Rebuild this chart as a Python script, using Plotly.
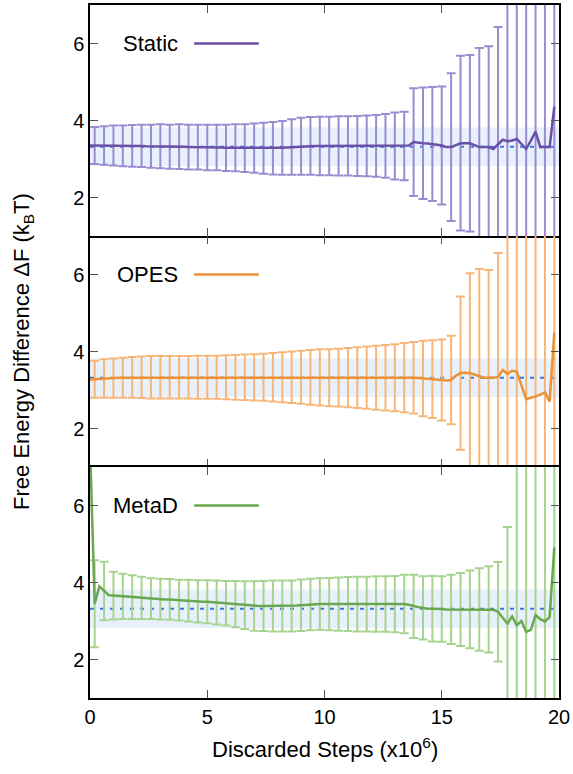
import numpy as np
import plotly.graph_objects as go
from plotly.subplots import make_subplots

# ---------------- data ----------------
# discarded steps (x10^6), line sampled every 0.2, error bars every other point
STEPS = np.round(np.arange(100) * 0.2, 1)

REF_VALUE = 3.32     # reference free-energy difference (kBT)
REF_ERR = 0.50       # reference uncertainty band

STATIC_Y = [3.35, 3.35, 3.35, 3.35, 3.35, 3.35, 3.35, 3.34, 3.34, 3.34,
            3.34, 3.34, 3.33, 3.33, 3.33, 3.33, 3.33, 3.32, 3.32, 3.32,
            3.32, 3.31, 3.31, 3.31, 3.31, 3.30, 3.30, 3.30, 3.30, 3.29,
            3.29, 3.29, 3.28, 3.28, 3.28, 3.28, 3.28, 3.28, 3.28, 3.28,
            3.29, 3.29, 3.30, 3.31, 3.32, 3.33, 3.33, 3.34, 3.34, 3.34,
            3.34, 3.34, 3.34, 3.34, 3.34, 3.34, 3.34, 3.34, 3.34, 3.34,
            3.34, 3.34, 3.34, 3.34, 3.34, 3.34, 3.34, 3.34, 3.35, 3.44,
            3.42, 3.41, 3.40, 3.39, 3.37, 3.35, 3.31, 3.31, 3.36, 3.41,
            3.41, 3.41, 3.36, 3.31, 3.31, 3.31, 3.26, 3.38, 3.50, 3.46,
            3.48, 3.52, 3.39, 3.26, 3.48, 3.71, 3.31, 3.32, 3.31, 4.36]
STATIC_ERR = [0.48, 0.50, 0.52, 0.53, 0.54, 0.55, 0.56, 0.57, 0.57, 0.58,
              0.58, 0.58, 0.59, 0.59, 0.60, 0.61, 0.62, 0.64, 0.66, 0.68,
              0.70, 0.72, 0.74, 0.75, 0.76, 0.76, 0.77, 0.77, 0.78, 0.79,
              0.80, 0.83, 0.87, 0.89, 1.40, 1.45, 1.48, 1.53, 1.92, 2.27,
              2.29, 2.57, 2.62, 3.05, 4.50, 5.00, 5.50, 6.00, 6.50, 7.00]

OPES_Y = [3.27, 3.28, 3.29, 3.30, 3.31, 3.31, 3.32, 3.32, 3.32, 3.33,
          3.33, 3.33, 3.33, 3.33, 3.33, 3.33, 3.33, 3.33, 3.33, 3.33,
          3.33, 3.33, 3.33, 3.33, 3.33, 3.33, 3.33, 3.33, 3.33, 3.33,
          3.33, 3.33, 3.33, 3.33, 3.33, 3.33, 3.33, 3.33, 3.33, 3.33,
          3.33, 3.33, 3.33, 3.33, 3.33, 3.33, 3.33, 3.33, 3.33, 3.33,
          3.32, 3.32, 3.32, 3.32, 3.32, 3.32, 3.32, 3.32, 3.32, 3.32,
          3.32, 3.32, 3.32, 3.32, 3.32, 3.32, 3.32, 3.32, 3.32, 3.32,
          3.31, 3.30, 3.29, 3.28, 3.27, 3.26, 3.25, 3.26, 3.37, 3.44,
          3.45, 3.44, 3.40, 3.34, 3.32, 3.32, 3.32, 3.34, 3.52, 3.42,
          3.50, 3.48, 3.12, 2.76, 2.80, 2.83, 2.88, 2.94, 2.70, 4.49]
OPES_ERR = [0.48, 0.50, 0.51, 0.52, 0.53, 0.54, 0.55, 0.55, 0.55, 0.55,
            0.55, 0.56, 0.56, 0.56, 0.57, 0.58, 0.59, 0.60, 0.61, 0.63,
            0.65, 0.67, 0.69, 0.71, 0.73, 0.74, 0.75, 0.77, 0.79, 0.81,
            0.83, 0.85, 0.87, 0.90, 0.93, 0.98, 1.01, 1.05, 1.15, 1.99,
            2.59, 2.80, 2.80, 3.22, 4.00, 4.50, 5.00, 5.50, 6.00, 6.50]

METAD_Y = [7.60, 3.45, 3.90, 3.78, 3.67, 3.66, 3.65, 3.64, 3.63, 3.62,
           3.61, 3.60, 3.59, 3.58, 3.57, 3.57, 3.56, 3.56, 3.55, 3.54,
           3.53, 3.53, 3.52, 3.51, 3.50, 3.50, 3.49, 3.48, 3.47, 3.46,
           3.45, 3.44, 3.43, 3.41, 3.40, 3.39, 3.39, 3.39, 3.39, 3.39,
           3.39, 3.39, 3.39, 3.39, 3.40, 3.41, 3.42, 3.43, 3.44, 3.44,
           3.44, 3.44, 3.44, 3.44, 3.44, 3.44, 3.44, 3.44, 3.44, 3.44,
           3.44, 3.44, 3.44, 3.44, 3.44, 3.44, 3.44, 3.44, 3.42, 3.38,
           3.36, 3.34, 3.32, 3.32, 3.32, 3.31, 3.30, 3.30, 3.30, 3.30,
           3.30, 3.30, 3.30, 3.30, 3.30, 3.30, 3.29, 3.24, 3.08, 2.93,
           3.12, 2.89, 3.00, 2.72, 2.77, 3.15, 3.05, 2.99, 3.10, 4.91]
METAD_ERR = [1.13, 0.76, 0.62, 0.59, 0.57, 0.55, 0.53, 0.53, 0.53, 0.53,
             0.54, 0.55, 0.56, 0.57, 0.58, 0.60, 0.62, 0.64, 0.65, 0.66,
             0.66, 0.66, 0.67, 0.67, 0.67, 0.68, 0.69, 0.70, 0.71, 0.71,
             0.72, 0.72, 0.73, 0.76, 0.82, 0.82, 0.85, 0.85, 0.90, 0.95,
             1.01, 1.07, 1.12, 1.29, 2.51, 4.50, 5.00, 5.50, 6.00, 6.50]

SERIES_NAMES = ["Static", "OPES", "MetaD"]
X_TICKS = [0, 5, 10, 15, 20]
Y_TICKS = [2, 4, 6]

# ---------------- style ----------------
LINE_COLORS = ["#6a50a7", "#ec9236", "#6aa84f"]
ERR_COLORS = ["#9b8bd0", "#f7b678", "#a6d48e"]
BAND_COLOR = "#e8f0fb"
REF_COLOR = "#3b78d8"
FONT = "Liberation Sans, Arial, Helvetica, sans-serif"

series = [(STATIC_Y, STATIC_ERR), (OPES_Y, OPES_ERR), (METAD_Y, METAD_ERR)]

fig = make_subplots(rows=3, cols=1, shared_xaxes=True, vertical_spacing=0)

for r, (name, (ys, errs)) in enumerate(zip(SERIES_NAMES, series), start=1):
    sfx = "" if r == 1 else str(r)
    ys = np.array(ys)
    # reference band
    fig.add_shape(type="rect", xref=f"x{sfx} domain", yref=f"y{sfx}",
                  x0=0, x1=1, y0=REF_VALUE - REF_ERR, y1=REF_VALUE + REF_ERR,
                  fillcolor=BAND_COLOR, line_width=0, layer="below")
    # reference dotted line
    fig.add_trace(go.Scatter(x=[STEPS[0], 20], y=[REF_VALUE, REF_VALUE], mode="lines",
                             line=dict(color=REF_COLOR, width=2, dash="4px,6px"),
                             showlegend=False, hoverinfo="skip"), row=r, col=1)
    # error bars
    fig.add_trace(go.Scatter(x=STEPS[1::2], y=ys[1::2], mode="markers",
                             marker=dict(size=1, color="rgba(0,0,0,0)"),
                             error_y=dict(type="data", array=errs, color=ERR_COLORS[r - 1],
                                          thickness=2, width=4.5),
                             showlegend=False), row=r, col=1)
    # main line
    fig.add_trace(go.Scatter(x=STEPS, y=ys, mode="lines",
                             line=dict(color=LINE_COLORS[r - 1], width=2.5),
                             name=name, showlegend=False), row=r, col=1)
    # key: text then line sample
    fig.add_annotation(xref=f"x{sfx} domain", yref=f"y{sfx}", x=0.192, y=6,
                       text=name, showarrow=False, xanchor="right", yanchor="middle",
                       font=dict(size=22, color="black", family=FONT))
    fig.add_shape(type="line", xref=f"x{sfx} domain", yref=f"y{sfx}",
                  x0=0.222, x1=0.360, y0=6, y1=6,
                  line=dict(color=LINE_COLORS[r - 1], width=2.5))

    axis_common = dict(linecolor="black", linewidth=1.5, mirror="ticks",
                       ticks="inside", ticklen=8, tickwidth=1.2, tickcolor="#555",
                       showgrid=False, zeroline=False,
                       tickfont=dict(size=20, color="black", family=FONT))
    # middle panel's x-axis lines would double the shared borders, so only its ticks are drawn
    fig.update_xaxes(range=[0, 20], tickvals=X_TICKS, showticklabels=(r == 3),
                     showline=(r != 2), row=r, col=1, **axis_common)
    fig.update_yaxes(range=[1, 7], tickvals=Y_TICKS, showline=True, row=r, col=1,
                     **axis_common)

fig.add_annotation(xref="paper", yref="paper", x=-0.144, y=0.5,
                   text="Free Energy Difference ΔF (k<sub>B</sub>T)", textangle=-90,
                   showarrow=False, xanchor="center", yanchor="middle",
                   font=dict(size=22, color="black", family=FONT))
fig.add_annotation(xref="paper", yref="paper", x=0.5, y=0, yshift=-34,
                   text="Discarded Steps (x10<sup>6</sup>)",
                   showarrow=False, xanchor="center", yanchor="top",
                   font=dict(size=22, color="black", family=FONT))

fig.update_layout(width=573, height=774, margin=dict(l=90, r=12, t=3, b=76),
                  plot_bgcolor="white", paper_bgcolor="white",
                  font=dict(family=FONT, color="black"), showlegend=False)

fig.write_html("out.html")
